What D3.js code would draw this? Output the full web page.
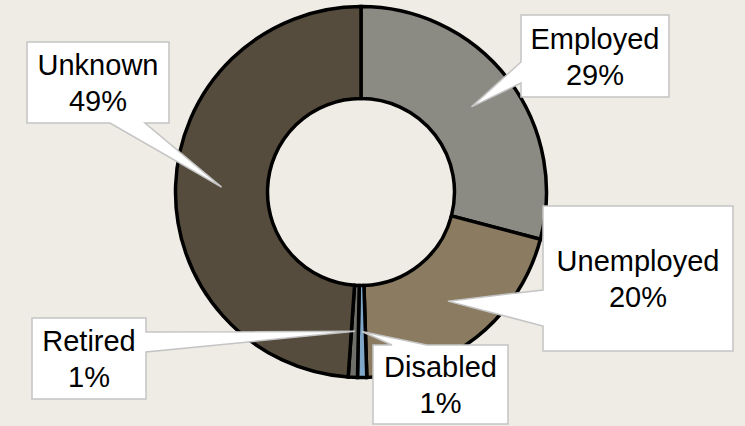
<!DOCTYPE html>
<html>
<head>
<meta charset="utf-8">
<script src="https://cdn.jsdelivr.net/npm/d3@7"></script>
<style>
  html, body { margin: 0; padding: 0; background: #efece5; }
  svg { display: block; }
</style>
</head>
<body>
<div id="chart"></div>
<script>
var categories = ["Employed", "Unemployed", "Disabled", "Retired", "Unknown"];
var values = [29.1, 20.4, 0.8, 0.8, 48.9];
var percentLabels = ["29%", "20%", "1%", "1%", "49%"];
var colors = ["#8b8b84", "#8a7b61", "#7fa7c7", "#6f6f6a", "#554c3d"];

// callout boxes: x, y, w, h, side the pointer leaves from, base offsets along that side
var callouts = [
    { x: 521, y: 15,  w: 148, h: 82,  side: "left",   b0: 47, b1: 68 },
    { x: 543, y: 206, w: 190, h: 145, side: "left",   b0: 84, b1: 120 },
    { x: 373, y: 345, w: 135, h: 79,  side: "top",    b0: 19, b1: 54 },
    { x: 32,  y: 318, w: 114, h: 81,  side: "right",  b0: 14, b1: 34 },
    { x: 27,  y: 42,  w: 142, h: 81,  side: "bottom", b0: 83, b1: 118 }
];

var width = 745,
    height = 426,
    cx = 361,
    cy = 192,
    outerR = 185.5,
    innerR = 93.5;

var svg = d3.select("#chart")
    .append("svg")
    .attr("width", width)
    .attr("height", height);

svg.append("rect")
    .attr("width", width)
    .attr("height", height)
    .style("fill", "#efece5");

var pie = d3.pie()
    .sort(null)
    .value(function(d) { return d; });

var arc = d3.arc()
    .innerRadius(innerR)
    .outerRadius(outerR);

var arcs = pie(values);

var g = svg.append("g")
    .attr("transform", `translate(${cx},${cy})`);

g.selectAll("path.slice")
    .data(arcs)
    .enter()
    .append("path")
    .attr("class", "slice")
    .attr("d", arc)
    .style("fill", function(d, i) { return colors[i]; })
    .style("stroke", "#000")
    .style("stroke-width", 3.5)
    .style("stroke-linejoin", "miter");

function calloutPath(c, tip) {
    var x0 = c.x, y0 = c.y, x1 = c.x + c.w, y1 = c.y + c.h;
    var p = [];
    if (c.side == "top") {
        p = [[x0, y0], [x0 + c.b0, y0], tip, [x0 + c.b1, y0], [x1, y0], [x1, y1], [x0, y1]];
    }
    else if (c.side == "bottom") {
        p = [[x0, y0], [x1, y0], [x1, y1], [x0 + c.b1, y1], tip, [x0 + c.b0, y1], [x0, y1]];
    }
    else if (c.side == "left") {
        p = [[x0, y0], [x1, y0], [x1, y1], [x0, y1], [x0, y0 + c.b1], tip, [x0, y0 + c.b0]];
    }
    else {
        p = [[x0, y0], [x1, y0], [x1, y0 + c.b0], tip, [x1, y0 + c.b1], [x1, y1], [x0, y1]];
    }
    return "M" + p.map(function(q) { return q[0] + "," + q[1]; }).join("L") + "Z";
}

var labels = svg.selectAll("g.callout")
    .data(arcs)
    .enter()
    .append("g")
    .attr("class", "callout");

labels.append("path")
    .attr("d", function(d, i) {
        var c = arc.centroid(d);
        return calloutPath(callouts[i], [cx + c[0], cy + c[1]]);
    })
    .style("fill", "#fff")
    .style("stroke", "#c4c4c4")
    .style("stroke-width", 1.5);

labels.append("text")
    .attr("x", function(d, i) { return callouts[i].x + callouts[i].w / 2; })
    .attr("y", function(d, i) { return callouts[i].y + callouts[i].h / 2 - 7.5; })
    .style("text-anchor", "middle")
    .style("font-family", "Liberation Sans, Arial, sans-serif")
    .style("font-size", "29px")
    .style("fill", "#000")
    .text(function(d, i) { return categories[i]; });

labels.append("text")
    .attr("x", function(d, i) { return callouts[i].x + callouts[i].w / 2; })
    .attr("y", function(d, i) { return callouts[i].y + callouts[i].h / 2 + 28.5; })
    .style("text-anchor", "middle")
    .style("font-family", "Liberation Sans, Arial, sans-serif")
    .style("font-size", "29px")
    .style("fill", "#000")
    .text(function(d, i) { return percentLabels[i]; });
</script>
</body>
</html>
